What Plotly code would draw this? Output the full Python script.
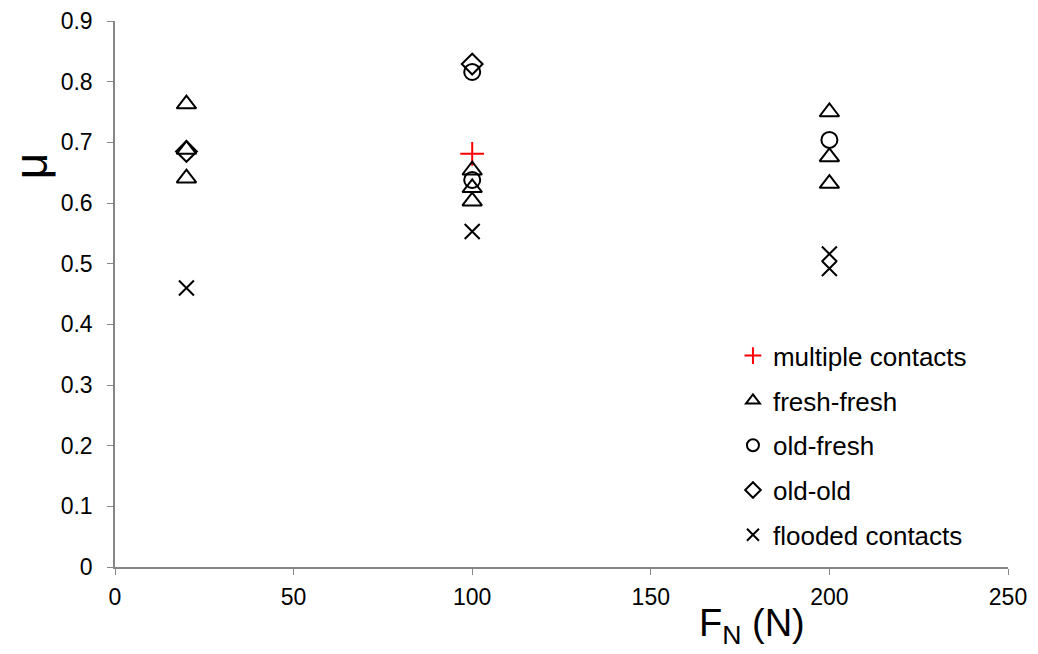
import plotly.graph_objects as go

# Data
mult_x = [100]
mult_y = [0.681]

ff_x = [20, 20, 20, 100, 100, 100, 200, 200, 200]
ff_y = [0.763, 0.688, 0.641, 0.654, 0.625, 0.603, 0.750, 0.676, 0.632]

of_x = [100, 100, 200]
of_y = [0.816, 0.638, 0.704]

oo_x = [20, 100]
oo_y = [0.685, 0.829]

fl_x = [20, 100, 200, 200]
fl_y = [0.460, 0.553, 0.516, 0.492]

x_ticks = [0, 50, 100, 150, 200, 250]
y_ticks = [0, 0.1, 0.2, 0.3, 0.4, 0.5, 0.6, 0.7, 0.8, 0.9]

fig = go.Figure()

def add(name, xs, ys, symbol, color, size, group):
    fig.add_trace(go.Scatter(
        x=xs, y=ys, mode="markers", name=name, legendgroup=group,
        marker=dict(symbol=symbol, size=size, color=color,
                    line=dict(color=color, width=2)),
    ))

add("multiple contacts", mult_x, mult_y, "cross-thin-open", "#ff0000", 17, "a")
add("fresh-fresh", ff_x, ff_y, "triangle-up-open", "#000000", 17, "b")
add("old-fresh", of_x, of_y, "circle-open", "#000000", 16, "c")
add("old-old", oo_x, oo_y, "diamond-open", "#000000", 16, "d")
add("flooded contacts", fl_x, fl_y, "x-thin-open", "#000000", 15, "e")

font = "Liberation Sans, Arial, sans-serif"

fig.update_layout(
    width=1030, height=646,
    margin=dict(l=107, r=30, t=13, b=87),
    paper_bgcolor="white", plot_bgcolor="white",
    font=dict(family=font, size=23, color="#000000"),
    showlegend=True,
    legend=dict(x=0.692, xanchor="left", y=0.43, yanchor="top",
                bgcolor="rgba(0,0,0,0)", borderwidth=0,
                font=dict(size=26, family=font),
                tracegroupgap=8, itemsizing="constant"),
    xaxis=dict(range=[0, 250], tickvals=x_ticks, showgrid=False, zeroline=False,
               showline=True, linecolor="#868686", linewidth=1.5,
               ticks="outside", ticklen=6, tickcolor="#868686",
               ticklabelstandoff=3, automargin=False,
               tickfont=dict(size=23)),
    yaxis=dict(range=[0, 0.9], tickvals=y_ticks, ticktext=["0"] + [f"{v:.1f}" for v in y_ticks[1:]],
               showgrid=False, zeroline=False,
               showline=True, linecolor="#868686", linewidth=1.5,
               ticks="outside", ticklen=6, tickcolor="#868686",
               ticklabelstandoff=10, automargin=False,
               tickfont=dict(size=23)),
    annotations=[
        dict(text="F<sub>N</sub> (N)", x=0.713, y=-0.108, xref="paper", yref="paper",
             xanchor="center", yanchor="middle", showarrow=False,
             font=dict(size=38, family=font)),
        dict(text="μ", x=-0.094, y=0.734, xref="paper", yref="paper",
             xanchor="center", yanchor="middle", showarrow=False, textangle=-90,
             font=dict(size=46, family=font)),
    ],
)

fig.write_html("out.html")
